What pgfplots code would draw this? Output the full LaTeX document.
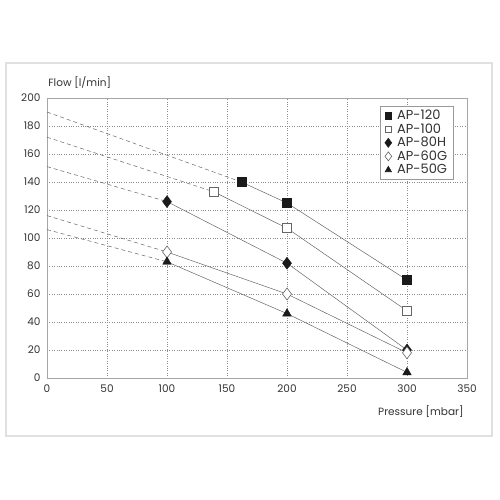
\documentclass[border=0pt]{standalone}
\usepackage{pgfplots}
\pgfplotsset{compat=1.18}
\usepackage{fontspec}
\setmainfont{Poppins}
\definecolor{txt}{HTML}{333333}
\definecolor{ln}{HTML}{666666}
\definecolor{mk}{HTML}{1A1A1A}
\begin{document}
\begin{tikzpicture}
\path (-47pt,-122pt) rectangle (453pt,378pt);
\draw[color=black!12, line width=1.5pt] (-41pt,-58pt) rectangle (445pt,315pt);
\begin{axis}[
  at={(0,0)}, anchor=origin,
  scale only axis, width=420pt, height=280pt,
  xmin=0, xmax=350, ymin=0, ymax=200,
  xtick={0,50,...,350}, ytick={0,20,...,200},
  grid=major,
  major grid style={black!45, dotted, line width=0.6pt},
  major tick length=0pt,
  axis line style={black!35, line width=0.8pt},
  /pgf/number format/assume math mode=true,
  tick label style={font=\fontsize{10.5}{12}\selectfont, text=txt},
  xticklabel style={yshift=-3pt},
  yticklabel style={xshift=-3pt},
  legend style={at={(0.969,0.972)}, anchor=north east, draw=black!40, line width=0.6pt,
    font=\fontsize{13}{13.5}\selectfont, text=txt, inner xsep=5pt, inner ysep=2pt, row sep=-1.5pt,
    nodes={inner xsep=1.5pt}},
  legend cell align=left,
  legend image code/.code={\draw plot coordinates {(0cm,0cm)};},
  clip=false,
]
% AP-120
\addplot[ln, line width=0.5pt, forget plot] coordinates {(162,140) (200,125) (300,70)};
\addplot[ln, dashed, dash pattern=on 4pt off 3pt, line width=0.5pt, forget plot] coordinates {(0,190) (162,140)};
% AP-100
\addplot[ln, line width=0.5pt, forget plot] coordinates {(139,133) (200,107) (300,48)};
\addplot[ln, dashed, dash pattern=on 4pt off 3pt, line width=0.5pt, forget plot] coordinates {(0,172) (139,133)};
% AP-80H
\addplot[ln, line width=0.5pt, forget plot] coordinates {(100,126) (200,82) (300,20)};
\addplot[ln, dashed, dash pattern=on 4pt off 3pt, line width=0.5pt, forget plot] coordinates {(0,151) (100,126)};
% AP-60G
\addplot[ln, line width=0.5pt, forget plot] coordinates {(100,90) (200,60) (300,18)};
\addplot[ln, dashed, dash pattern=on 4pt off 3pt, line width=0.5pt, forget plot] coordinates {(0,116) (100,90)};
% AP-50G
\addplot[ln, line width=0.5pt, forget plot] coordinates {(100,83) (200,46) (300,4)};
\addplot[ln, dashed, dash pattern=on 4pt off 3pt, line width=0.5pt, forget plot] coordinates {(0,106) (100,83)};

\addplot[only marks, mark=square*, mark size=4.5pt, mark options={fill=mk, draw=mk},
  legend image post style={mark size=3.3pt}] coordinates {(162,140) (200,125) (300,70)};
\addlegendentry{\hspace{4pt}AP-120}
\addplot[only marks, mark=square*, mark size=4.5pt, mark options={fill=white, draw=ln, line width=0.6pt},
  legend image post style={mark size=3.3pt}] coordinates {(139,133) (200,107) (300,48)};
\addlegendentry{\hspace{4pt}AP-100}
\addplot[only marks, mark=diamond*, mark size=6pt, mark options={fill=mk, draw=mk},
  legend image post style={mark size=4.5pt}] coordinates {(100,126) (200,82) (300,20)};
\addlegendentry{\hspace{4pt}AP-80H}
\addplot[only marks, mark=diamond*, mark size=6pt, mark options={fill=white, draw=ln, line width=0.6pt},
  legend image post style={mark size=4.5pt}] coordinates {(100,90) (200,60) (300,18)};
\addlegendentry{\hspace{4pt}AP-60G}
\addplot[only marks, mark=triangle*, mark size=5pt, mark options={fill=mk, draw=mk},
  legend image post style={mark size=3.6pt}] coordinates {(100,83) (200,46) (300,4)};
\addlegendentry{\hspace{4pt}AP-50G}

\node[anchor=west, font=\fontsize{10.5}{12}\selectfont, text=txt] at (rel axis cs:-0.005,1.054) {Flow [l/min]};
\node[anchor=east, font=\fontsize{10.5}{12}\selectfont, text=txt] at (rel axis cs:1.0,-0.12) {Pressure [mbar]};
\end{axis}
\end{tikzpicture}
\end{document}
